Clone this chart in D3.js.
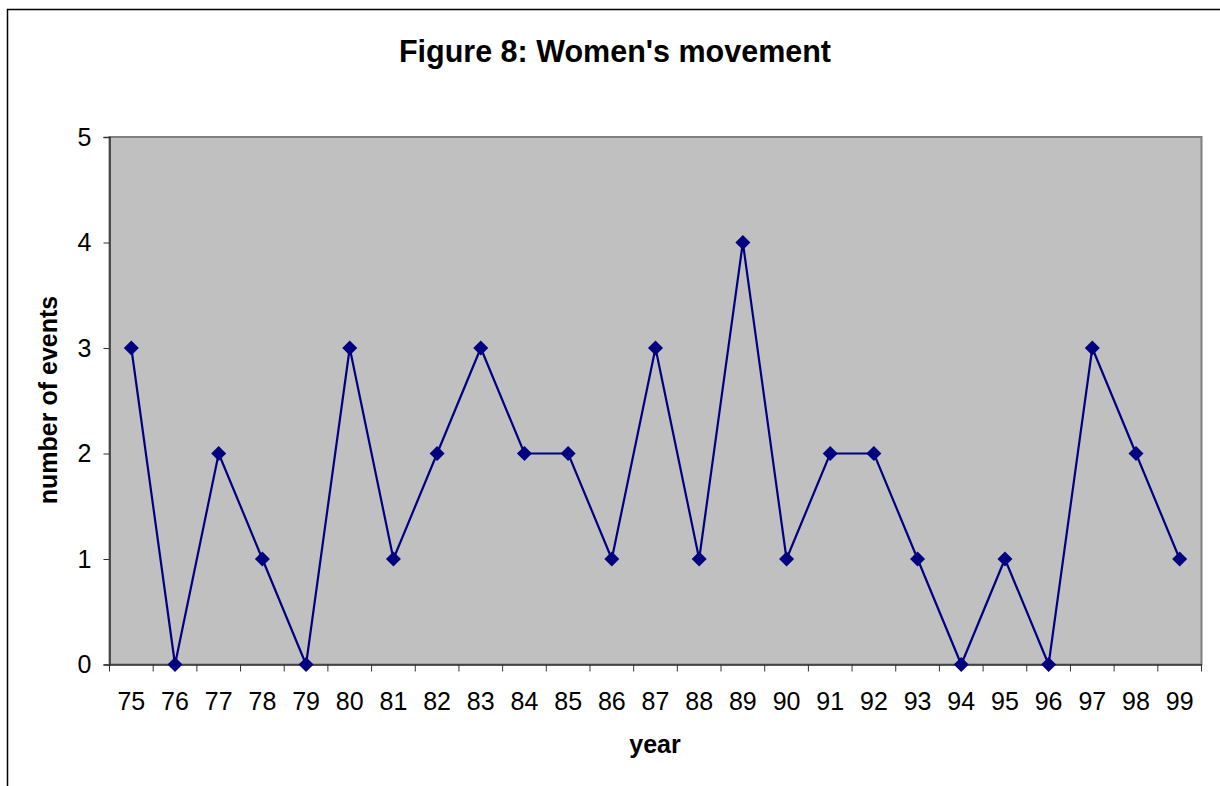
<!DOCTYPE html>
<html><head><meta charset="utf-8">
<script src="https://cdn.jsdelivr.net/npm/d3@7"></script>
<style>body{margin:0;background:#fff;}svg{display:block;font-family:"Liberation Sans",Arial,sans-serif;}</style>
</head><body>
<svg id="c" width="1220" height="786"></svg>
<script>
const years = ["75","76","77","78","79","80","81","82","83","84","85","86","87","88","89","90","91","92","93","94","95","96","97","98","99"];
const events = [3,0,2,1,0,3,1,2,3,2,2,1,3,1,4,1,2,2,1,0,1,0,3,2,1];
const yTicks = [0,1,2,3,4,5];
const title = "Figure 8: Women's movement";
const xTitle = "year";
const yTitle = "number of events";

const svg = d3.select("#c");
// outer frame
svg.append("rect").attr("x",7.5).attr("y",9.5).attr("width",1240).attr("height",800)
  .attr("fill","none").attr("stroke","#000").attr("stroke-width",1.5);

const L=109.5, R=1201.5, T=137, B=664.5;
const x = d3.scaleBand().domain(years).range([L,R]);
const y = d3.scaleLinear().domain([0,5]).range([B,T]);

svg.append("rect").attr("x",L).attr("y",T).attr("width",R-L).attr("height",B-T)
  .attr("fill","#c0c0c0").attr("stroke","#808080").attr("stroke-width",2);

const yAxis = svg.append("g").attr("transform",`translate(${L},0)`)
  .call(d3.axisLeft(y).tickValues(yTicks).tickSize(6).tickPadding(12).tickFormat(d3.format("d")));
const xAxis = svg.append("g").attr("transform",`translate(0,${B})`)
  .call(d3.axisBottom(x).tickSize(0).tickPadding(28));
// category boundary ticks
const bounds = years.map(d=>x(d)).concat([R]);
xAxis.selectAll(".bt").data(bounds).enter().append("line").attr("class","bt")
  .attr("x1",d=>d).attr("x2",d=>d).attr("y1",0).attr("y2",7).attr("stroke","#333").attr("stroke-width",1);
[xAxis,yAxis].forEach(a=>{
  a.select(".domain").attr("stroke","#333").attr("stroke-width",1.5);
  a.selectAll(".tick line").attr("stroke","#333");
  a.selectAll("text").attr("font-size",25).attr("fill","#000").attr("font-family","Liberation Sans, Arial, sans-serif");
});

const cx = d=>x(d)+x.bandwidth()/2;
const line = d3.line().x((d,i)=>cx(years[i])).y(d=>y(d));
svg.append("path").datum(events).attr("d",line).attr("fill","none").attr("stroke","#000080").attr("stroke-width",2.2);
svg.selectAll(".m").data(events).enter().append("path").attr("class","m")
  .attr("d","M0,-7.5L7.5,0L0,7.5L-7.5,0Z").attr("fill","#000080")
  .attr("transform",(d,i)=>`translate(${cx(years[i])},${y(d)})`);

svg.append("text").attr("x",615).attr("y",62).attr("text-anchor","middle")
  .attr("font-size",30.5).attr("font-weight","bold").text(title);
svg.append("text").attr("x",655).attr("y",753).attr("text-anchor","middle")
  .attr("font-size",25).attr("font-weight","bold").text(xTitle);
svg.append("text").attr("transform","translate(57,400) rotate(-90)").attr("text-anchor","middle")
  .attr("font-size",25).attr("font-weight","bold").text(yTitle);
</script>
</body></html>
